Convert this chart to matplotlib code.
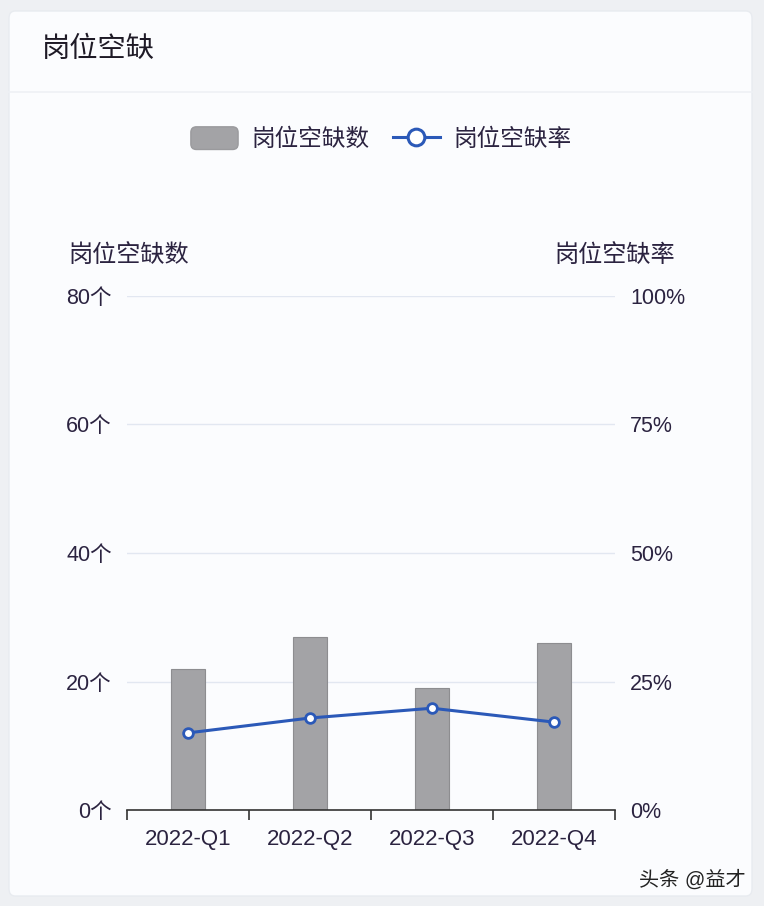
import matplotlib.pyplot as plt
from matplotlib.patches import FancyBboxPatch, Patch
from matplotlib.lines import Line2D
from matplotlib.legend_handler import HandlerPatch
from matplotlib.ticker import FixedLocator

plt.rcParams['font.family'] = ['Liberation Sans', 'Noto Sans CJK SC', 'DejaVu Sans']

quarters = ["2022-Q1", "2022-Q2", "2022-Q3", "2022-Q4"]
vacancy_count = [22, 27, 19, 26]
vacancy_rate = [15.0, 17.9, 19.8, 17.1]
count_ticks = [0, 20, 40, 60, 80]
count_labels = ["0个", "20个", "40个", "60个", "80个"]
rate_ticks = [0, 25, 50, 75, 100]
rate_labels = ["0%", "25%", "50%", "75%", "100%"]

text_col = "#2b2340"
bar_col = "#a3a3a6"
line_col = "#2b59b8"


class RoundHandler(HandlerPatch):
    # rounded rectangle legend key
    def create_artists(self, legend, orig_handle, xdescent, ydescent,
                       width, height, fontsize, trans):
        p = FancyBboxPatch((-xdescent, -ydescent), width, height,
                           boxstyle="round,pad=0,rounding_size=4")
        self.update_prop(p, orig_handle, legend)
        p.set_transform(trans)
        return [p]


W, H = 764, 906
fig = plt.figure(figsize=(W / 100, H / 100), dpi=100)
fig.patch.set_facecolor("#eef0f3")

# card background
card = FancyBboxPatch((9 / W, 10 / H), 743 / W, 885 / H,
                      boxstyle="round,pad=0,rounding_size=0.008",
                      transform=fig.transFigure, facecolor="#fbfcfe",
                      edgecolor="#e8ebf0", lw=1, zorder=-5)
fig.patches.append(card)
fig.add_artist(Line2D([9 / W, 752 / W], [1 - 92 / H, 1 - 92 / H],
                      transform=fig.transFigure, color="#eef1f5", lw=1.2,
                      zorder=-4))
fig.text(42 / W, 1 - 50 / H, "岗位空缺", fontsize=20.3, color="#1e1a26",
         va="center", ha="left")

ax = fig.add_axes([127 / W, 96 / H, 488 / W, 514 / H])
ax.set_facecolor("none")
x = list(range(len(quarters)))
ax.bar(x, vacancy_count, width=0.28, color=bar_col, edgecolor="#8d8d90",
       linewidth=0.8, zorder=2)
ax.set_xlim(-0.5, len(quarters) - 0.5)
ax.set_ylim(0, 80)
ax.set_yticks(count_ticks)
ax.set_yticklabels(count_labels)
ax.set_xticks(x)
ax.set_xticklabels(quarters)
ax.xaxis.set_minor_locator(FixedLocator([i - 0.5 for i in range(len(quarters) + 1)]))
ax.tick_params(axis="x", which="major", length=0, pad=14, labelsize=16,
               labelcolor=text_col)
ax.tick_params(axis="x", which="minor", length=7, width=1.2, color="#333333",
               direction="out")
ax.tick_params(axis="y", length=0, pad=11, labelsize=15.5, labelcolor=text_col)
for v in count_ticks[1:]:
    ax.axhline(v, color="#e2e7f1", lw=1, zorder=1)
for s in ["top", "right", "left"]:
    ax.spines[s].set_visible(False)
ax.spines["bottom"].set_color("#333333")
ax.spines["bottom"].set_linewidth(1.2)

ax2 = ax.twinx()
ax2.set_ylim(0, 100)
ax2.set_yticks(rate_ticks)
ax2.set_yticklabels(rate_labels)
ax2.tick_params(axis="y", length=0, pad=11, labelsize=15.5, labelcolor=text_col)
for s in ["top", "right", "left", "bottom"]:
    ax2.spines[s].set_visible(False)
ax2.plot(x, vacancy_rate, color=line_col, lw=2.2, marker="o", markersize=7,
         markerfacecolor="white", markeredgecolor=line_col, markeredgewidth=2,
         zorder=3)

fig.text(68 / W, 1 - 256 / H, "岗位空缺数", fontsize=17.4, color=text_col,
         va="center", ha="left")
fig.text(675 / W, 1 - 256 / H, "岗位空缺率", fontsize=17.4, color=text_col,
         va="center", ha="right")

bar_key = Patch(facecolor=bar_col, edgecolor="#9a9a9d")
line_key = Line2D([0], [0], color=line_col, lw=2.2, marker="o", markersize=12,
                  markerfacecolor="white", markeredgecolor=line_col,
                  markeredgewidth=2.2)
fig.legend([bar_key, line_key], ["岗位空缺数", "岗位空缺率"], loc="center",
           bbox_to_anchor=(381 / W, 1 - 139 / H), ncol=2, frameon=False,
           fontsize=17, handlelength=2.0, handleheight=1.1,
           columnspacing=1.0, handletextpad=0.55, labelcolor=text_col,
           handler_map={Patch: RoundHandler()})

fig.text(746 / W, 1 - 880 / H, "头条 @益才", fontsize=14.5, color="#222222",
         ha="right", va="center")

fig.savefig("out.png", dpi=100, facecolor=fig.get_facecolor())
